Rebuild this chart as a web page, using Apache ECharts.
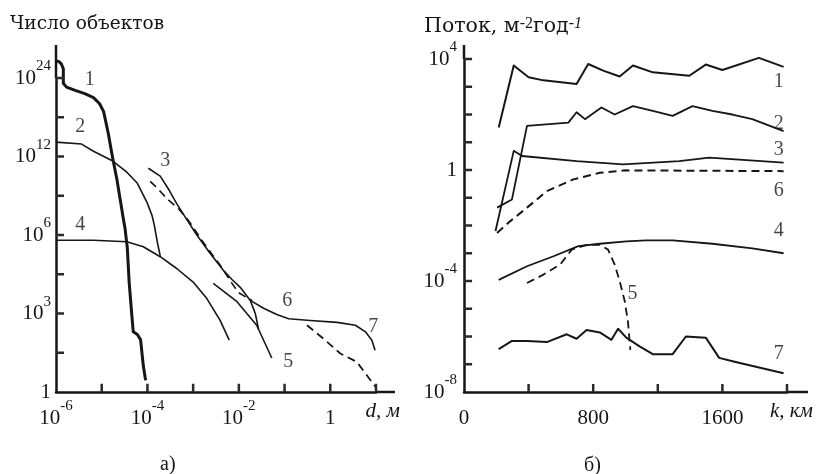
<!DOCTYPE html>
<html>
<head>
<meta charset="utf-8">
<title>Число объектов и поток</title>
<script src="https://cdn.jsdelivr.net/npm/echarts@6.0.0/dist/echarts.min.js"></script>
<style>
  html, body { margin: 0; padding: 0; background: #fff; }
  #chart { width: 823px; height: 474px; }
</style>
</head>
<body>
<div id="chart"></div>
<script>
// а) number of objects vs size: pairs of [lg d (m), lg N]
const objects1 = [[-6.00, 26.6], [-5.93, 26.5], [-5.88, 26.1], [-5.84, 25.4], [-5.84, 23.2], [-5.77, 22.6],
  [-5.58, 22.1], [-5.37, 21.6], [-5.18, 21.0], [-5.05, 20.1], [-4.96, 18.9], [-4.91, 17.3], [-4.85, 15.3],
  [-4.80, 13.3], [-4.75, 11.7], [-4.67, 10.3], [-4.60, 8.8], [-4.53, 7.3], [-4.49, 6.5], [-4.44, 5.5],
  [-4.40, 4.2], [-4.34, 2.9], [-4.31, 2.3], [-4.22, 2.2], [-4.15, 2.0], [-4.09, 1.0], [-4.04, 0.45]];
const objects2 = [[-6.00, 14.2], [-5.44, 13.9], [-5.18, 12.8], [-4.78, 11.7], [-4.45, 10.8], [-4.22, 9.95],
  [-4.01, 8.5], [-3.90, 7.5], [-3.85, 6.75], [-3.78, 5.7], [-3.72, 5.2]];
const objects3 = [[-3.98, 11.1], [-3.72, 10.5], [-3.52, 9.4], [-3.36, 8.4], [-3.18, 7.4], [-2.92, 6.0],
  [-2.63, 5.3], [-2.34, 4.65], [-2.15, 4.3], [-1.97, 4.0], [-1.75, 3.5], [-1.64, 3.0], [-1.57, 2.4]];
const objects3Dash = [[-3.94, 10.1], [-3.76, 9.5], [-3.58, 8.8], [-3.32, 8.0], [-3.10, 7.1], [-2.77, 5.7],
  [-2.41, 4.85], [-2.15, 4.15], [-2.01, 3.8], [-1.82, 3.6], [-1.71, 3.5]];
const objects4 = [[-6.00, 5.8], [-5.18, 5.8], [-4.45, 5.74], [-4.09, 5.55], [-3.72, 5.17], [-3.36, 4.72],
  [-3.00, 4.2], [-2.70, 3.57], [-2.41, 2.74], [-2.21, 1.98]];
const objects5 = [[-2.56, 4.15], [-2.04, 3.45], [-1.61, 2.55], [-1.28, 1.3]];
const objects6 = [[-1.75, 3.5], [-1.46, 3.2], [-1.17, 2.96], [-0.91, 2.8], [-0.44, 2.73], [0.15, 2.66],
  [0.55, 2.55], [0.77, 2.3], [0.91, 1.98], [0.98, 1.6]];
const objects7Dash = [[-0.51, 2.55], [-0.15, 2.04], [0.22, 1.47], [0.58, 1.15], [0.80, 0.64], [1.01, 0.15]];
const curveNamesA = [[-5.26, 23.7, '1'], [-5.47, 16.5, '2'], [-3.61, 11.7, '3'], [-5.47, 6.75, '4'],
  [-0.92, 1.14, '5'], [-0.94, 3.5, '6'], [0.94, 2.5, '7']];
const xTickExpA = [-6, -4, -2, 0];
const yTickExpA = [0, 3, 6, 12, 24];

// б) flux vs altitude: pairs of [k (km), flux (m^-2 yr^-1)]
const flux1 = [[215, 34], [308, 5800], [400, 2200], [492, 1700], [697, 1250], [769, 6600], [862, 3800],
  [964, 2350], [1046, 5800], [1169, 3300], [1395, 2500], [1497, 6300], [1600, 4000], [1826, 11000], [1979, 5200]];
const flux2 = [[205, 0.044], [297, 0.087], [390, 39], [646, 51], [697, 120], [749, 68], [790, 100], [851, 180],
  [933, 100], [1046, 200], [1169, 135], [1292, 89], [1415, 200], [1538, 135], [1662, 100], [1785, 68], [1979, 25]];
const flux3 = [[195, 0.0063], [308, 4.9], [359, 3.2], [697, 2.1], [985, 1.6], [1333, 2.1], [1518, 2.8], [1979, 1.85]];
const flux4 = [[215, 1.1e-4], [390, 3.4e-4], [554, 7.8e-4], [708, 1.8e-3], [841, 2.2e-3], [1005, 2.7e-3],
  [1128, 2.9e-3], [1292, 2.9e-3], [1538, 2.2e-3], [1785, 1.5e-3], [1979, 1.0e-3]];
const flux5 = [[390, 8.5e-5], [492, 1.7e-4], [595, 3.9e-4], [667, 1.35e-3], [759, 2.0e-3], [841, 2.0e-3],
  [892, 1.35e-3], [933, 3.9e-4], [964, 9.8e-5], [995, 1.9e-5], [1015, 3.5e-6], [1030, 3.3e-7]];
const flux6 = [[205, 0.0054], [287, 0.0144], [390, 0.044], [513, 0.174], [677, 0.46], [841, 0.79], [1005, 0.97], [1979, 0.91]];
const flux7 = [[215, 3.5e-7], [297, 6.9e-7], [390, 6.9e-7], [513, 6.3e-7], [636, 1.2e-6], [697, 8.3e-7],
  [759, 1.7e-6], [841, 1.4e-6], [913, 7.6e-7], [954, 1.9e-6], [1005, 9.1e-7], [1087, 4.4e-7], [1169, 2.3e-7],
  [1292, 2.3e-7], [1374, 1.0e-6], [1497, 9.1e-7], [1580, 1.7e-7], [1682, 1.2e-7], [1979, 4.7e-8]];
const curveNamesB = [[1949, 1480, '1'], [1949, 46, '2'], [1949, 5.2, '3'], [1949, 0.18, '6'],
  [1949, 0.0065, '4'], [1044, 3.5e-5, '5'], [1949, 2.4e-7, '7']];
const xTicksB = [0, 800, 1600];
const yTickExpB = [-8, -4, 0, 4];

const INK = '#161616';
const TICK = '#2a2a2a';
const numFont = 'Liberation Serif';
const textFont = 'DejaVu Serif';

// axis ranges
const dMin = 0.9995e-6, dMax = 10.005;
const kMin = 0, kMax = 2000;
const fMin = 0.9995e-8, fMax = 1.0005e4;

// panel a) y scale: 1, 10^3, 10^6, 10^12, 10^24 are evenly spaced
function toAxisA(lgN) {
    if (lgN <= 6) return lgN / 1.5;
    if (lgN <= 12) return 4 + (lgN - 6) / 3;
    return 6 + (lgN - 12) / 6;
}

function pointsA(curve) {
    return curve.map(p => [Math.pow(10, p[0]), toAxisA(p[1])]);
}

function powLabel(exp) {
    return exp === 0 ? '{b|1}' : '{b|10}{s|' + exp + '}';
}

function decades(from, to) {
    const out = [];
    for (let e = from; e <= to; e++) out.push(Math.pow(10, e));
    return out;
}

const powRich = {
    b: { fontFamily: numFont, fontSize: 21, lineHeight: 38, color: INK, verticalAlign: 'middle' },
    s: { fontFamily: numFont, fontSize: 15, lineHeight: 16, color: INK, verticalAlign: 'top' }
};

function line(idx, data, width, dash) {
    return {
        type: 'line', xAxisIndex: idx, yAxisIndex: idx, data: data, clip: false,
        symbol: 'none', showSymbol: false, silent: true,
        lineStyle: { color: INK, width: width, type: dash ? [8, 5] : 'solid', join: 'round' }
    };
}

function numberLabels(idx, data) {
    return {
        type: 'scatter', xAxisIndex: idx, yAxisIndex: idx, data: data, silent: true, clip: false,
        symbolSize: 1, itemStyle: { color: 'rgba(0,0,0,0)' },
        label: { show: true, position: 'inside', formatter: '{b}', fontFamily: numFont, fontSize: 20, color: INK }
    };
}

// inward tick marks: one short segment per tick, nulls break the line between them
function tickLines(idx, segments) {
    const data = [];
    segments.forEach(s => { data.push(s[0], s[1], null); });
    return {
        type: 'line', xAxisIndex: idx, yAxisIndex: idx, data: data, clip: false, connectNulls: false,
        symbol: 'none', showSymbol: false, silent: true, z: 6,
        lineStyle: { color: TICK, width: 2.5 }
    };
}

// tick length (about 8 px) expressed along each axis
const tickUA = 0.21;                       // left y axis units
const tickFactorDA = Math.pow(10, 0.175);  // left log x axis
const tickFactorFB = Math.pow(10, 0.29);   // right log y axis
const tickKB = 50;                         // right x axis, km

// the axis line runs on past the last tick, as in the drawing
function axisLine(extra) {
    return {
        show: true, onZero: false, lineStyle: { color: INK, width: 2.5 },
        symbol: ['none', 'rect'], symbolSize: [2.5, extra], symbolOffset: [0, extra / 2]
    };
}
const nameStyle = {
    fontFamily: numFont, fontSize: 21, fontStyle: 'italic', color: INK,
    align: 'right', verticalAlign: 'top', padding: [9, 0, 0, 0]
};

const chart = echarts.init(document.getElementById('chart'));

chart.setOption({
    animation: false,
    backgroundColor: '#fff',
    title: [
        { text: 'Число объектов', left: 10, top: 15, padding: 0,
          textStyle: { fontFamily: textFont, fontSize: 18.5, fontWeight: 'normal', color: INK } },
        { text: 'Поток, м{s|-2}год{t|-1}', left: 424, top: 16, padding: 0,
          textStyle: { fontFamily: textFont, fontSize: 20.5, fontWeight: 'normal', color: INK, lineHeight: 22,
            rich: {
                s: { fontFamily: numFont, fontSize: 16, lineHeight: 14, verticalAlign: 'top', color: INK },
                t: { fontFamily: numFont, fontSize: 16, lineHeight: 14, verticalAlign: 'top', fontStyle: 'italic', color: INK }
            } } },
        { text: 'а)', left: 160, top: 455, padding: 0,
          textStyle: { fontFamily: numFont, fontSize: 20, fontWeight: 'normal', color: INK } },
        { text: 'б)', left: 584, top: 456, padding: 0,
          textStyle: { fontFamily: numFont, fontSize: 20, fontWeight: 'normal', color: INK } }
    ],
    grid: [
        { left: 56, top: 78, width: 320, height: 314 },
        { left: 464, top: 59, width: 323, height: 333 }
    ],
    xAxis: [
        {
            gridIndex: 0, type: 'log', logBase: 10, min: dMin, max: dMax, interval: 1,
            axisLine: axisLine(19), axisTick: { show: false },
            axisLabel: { margin: 7, customValues: xTickExpA.map(e => Math.pow(10, e)),
                formatter: v => powLabel(Math.round(Math.log10(v))), rich: powRich },
            splitLine: { show: false },
            name: 'd, м', nameLocation: 'end', nameGap: 24, nameTextStyle: nameStyle
        },
        {
            gridIndex: 1, type: 'value', min: kMin, max: kMax, interval: 400,
            axisLine: axisLine(21), axisTick: { show: false },
            axisLabel: { margin: 7, customValues: xTicksB, formatter: v => '{b|' + v + '}', rich: powRich },
            splitLine: { show: false },
            name: 'k, км', nameLocation: 'end', nameGap: 26, nameTextStyle: nameStyle
        }
    ],
    yAxis: [
        {
            gridIndex: 0, type: 'value', min: 0, max: 8, interval: 1,
            axisLine: axisLine(33), axisTick: { show: false },
            axisLabel: { margin: 5, customValues: yTickExpA.map(toAxisA), rich: powRich,
                formatter: v => powLabel(yTickExpA.find(e => Math.abs(toAxisA(e) - v) < 1e-6)) },
            splitLine: { show: false }
        },
        {
            gridIndex: 1, type: 'log', logBase: 10, min: fMin, max: fMax, interval: 1,
            axisLine: axisLine(14), axisTick: { show: false },
            axisLabel: { margin: 7, customValues: yTickExpB.map(e => Math.pow(10, e)), rich: powRich,
                formatter: v => powLabel(Math.round(Math.log10(v))) },
            splitLine: { show: false }
        }
    ],
    series: [
        line(0, pointsA(objects1), 3),
        line(0, pointsA(objects2), 1.6),
        line(0, pointsA(objects3), 1.6),
        line(0, pointsA(objects3Dash), 1.6, true),
        line(0, pointsA(objects4), 1.6),
        line(0, pointsA(objects5), 1.6),
        line(0, pointsA(objects6), 1.6),
        line(0, pointsA(objects7Dash), 1.8, true),
        numberLabels(0, curveNamesA.map(p => ({ name: p[2], value: [Math.pow(10, p[0]), toAxisA(p[1])] }))),
        tickLines(0, decades(-5, 1).map(v => [[v, 0], [v, tickUA]])),
        tickLines(0, [1, 2, 3, 4, 5, 6, 7, 8].map(u => [[dMin, u], [dMin * tickFactorDA, u]])),
        line(1, flux1, 2),
        line(1, flux2, 1.8),
        line(1, flux3, 1.8),
        line(1, flux4, 1.8),
        line(1, flux5, 1.8, true),
        line(1, flux6, 2, true),
        line(1, flux7, 2),
        numberLabels(1, curveNamesB.map(p => ({ name: p[2], value: [p[0], p[1]] }))),
        tickLines(1, [400, 800, 1200, 1600, 2000].map(k => [[k, fMin], [k, fMin * tickFactorFB]])),
        tickLines(1, decades(-7, 4).map(f => [[kMin, f], [kMin + tickKB, f]]))
    ]
});
</script>
</body>
</html>
